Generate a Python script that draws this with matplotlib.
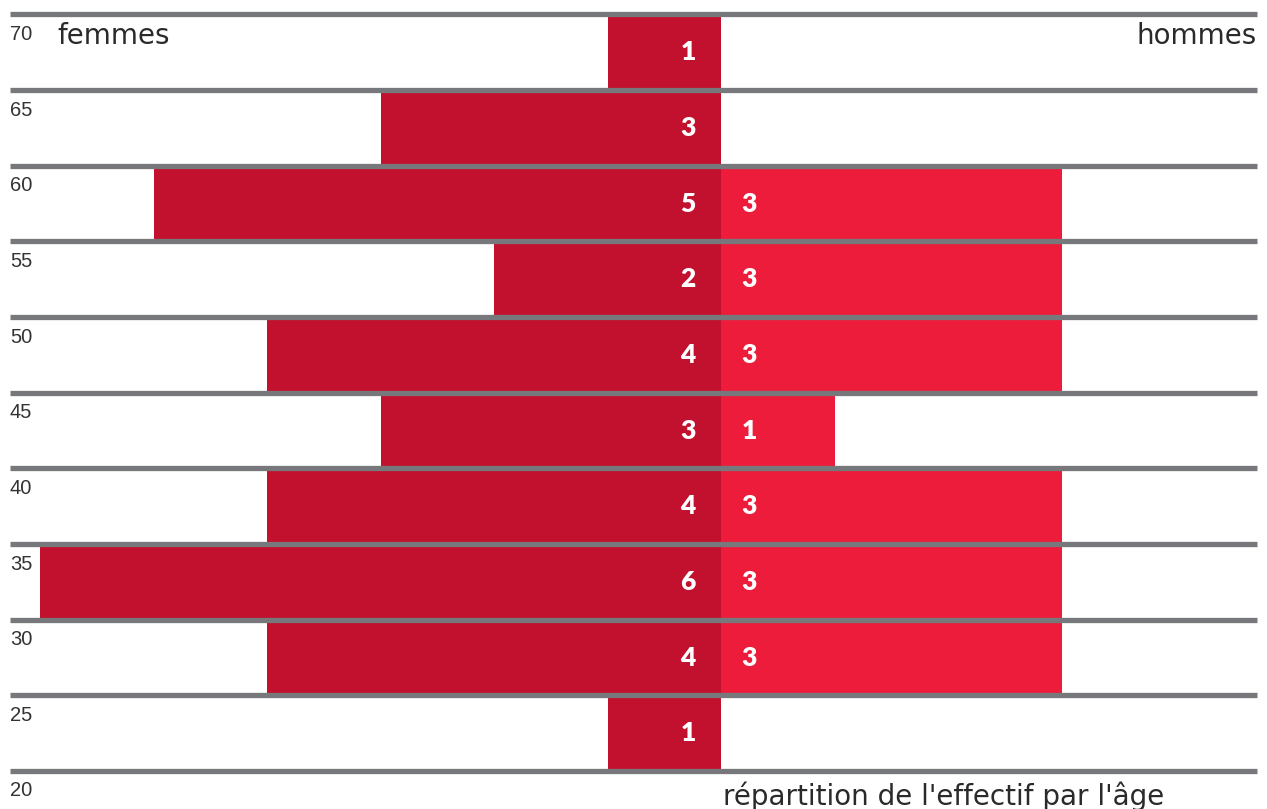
import matplotlib
matplotlib.use("Agg")
import matplotlib.pyplot as plt

# age bands (lower bound), top to bottom
ages = [65, 60, 55, 50, 45, 40, 35, 30, 25, 20]
femmes = [1, 3, 5, 2, 4, 3, 4, 6, 4, 1]
hommes = [0, 0, 3, 3, 3, 1, 3, 3, 3, 0]
tick_ages = [70, 65, 60, 55, 50, 45, 40, 35, 30, 25, 20]

W, H = 1267, 809
unit = 113.5      # px per person
center = 721      # px, x of the centre line
ypx = 15.13       # px per year
top_age = 70 + 14.5 / ypx
bot_age = 20 - (H - 771) / ypx

fig = plt.figure(figsize=(W / 100, H / 100), dpi=100)
ax = fig.add_axes([0, 0, 1, 1])
ax.set_xlim(-center / unit, (W - center) / unit)
ax.set_ylim(bot_age, top_age)
ax.axis("off")

# bars
ax.barh(ages, [-f for f in femmes], height=5, align="edge", color="#c2112e", linewidth=0)
ax.barh(ages, hommes, height=5, align="edge", color="#ed1c3a", linewidth=0)

# grey separators
ax.hlines(tick_ages, (10 - center) / unit, (1257 - center) / unit,
          color="#77787b", linewidth=3.8, zorder=3)

# counts inside the bars
for a, f, m in zip(ages, femmes, hommes):
    if f:
        ax.annotate(str(f), (0, a + 2.5), xytext=(-33, 0), textcoords="offset pixels",
                    ha="center", va="center", color="white", fontsize=19,
                    fontweight="heavy", family="Lato", zorder=4)
    if m:
        ax.annotate(str(m), (0, a + 2.5), xytext=(28, 0), textcoords="offset pixels",
                    ha="center", va="center", color="white", fontsize=19,
                    fontweight="heavy", family="Lato", zorder=4)

# age labels
for a in tick_ages:
    ax.text(10 / W, a - 20 / ypx, str(a), transform=ax.get_yaxis_transform(),
            ha="left", va="center", fontsize=14.5, color="#333333",
            family="Liberation Sans")

ax.text(57 / W, 70 - 22 / ypx, "femmes", transform=ax.get_yaxis_transform(),
        ha="left", va="center", fontsize=20, color="#2a2a2a", family="DejaVu Sans")
ax.text(1257 / W, 70 - 22 / ypx, "hommes", transform=ax.get_yaxis_transform(),
        ha="right", va="center", fontsize=20, color="#2a2a2a", family="DejaVu Sans")
ax.text(723 / W, 20 - 25 / ypx, "répartition de l'effectif par l'âge",
        transform=ax.get_yaxis_transform(), ha="left", va="center",
        fontsize=20, color="#2a2a2a", family="DejaVu Sans")

fig.savefig("out.png", dpi=100)
